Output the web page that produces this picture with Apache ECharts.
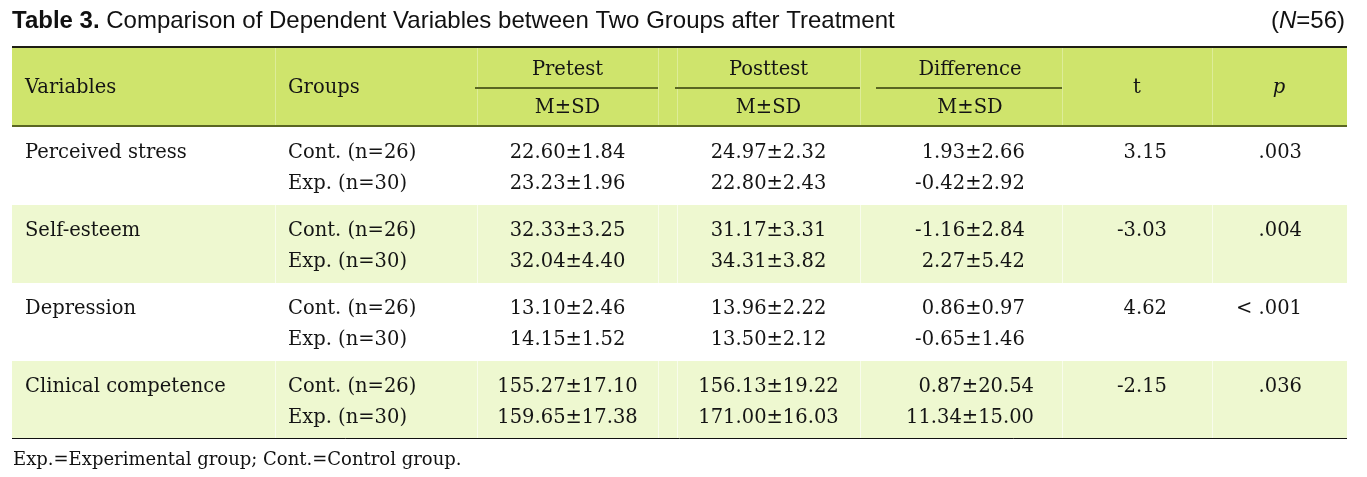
<!DOCTYPE html>
<html><head><meta charset="utf-8">
<script src="https://cdn.jsdelivr.net/npm/echarts@6/dist/echarts.min.js"></script>
<style>html,body{margin:0;padding:0;background:#fff}#c{width:1367px;height:477px}</style>
</head><body><div id="c"></div>
<script>
// ---------- data ----------
const titleBold = 'Table 3.';
const titleText = 'Comparison of Dependent Variables between Two Groups after Treatment';
const sampleSize = 56;
const headers = ['Variables', 'Groups', 'Pretest', 'Posttest', 'Difference', 't', 'p'];
const subHeader = 'M\u00B1SD';
const variables = ['Perceived stress', 'Self-esteem', 'Depression', 'Clinical competence'];
const groups = ['Cont. (n=26)', 'Exp. (n=30)'];
const pretestM = [[22.60, 23.23], [32.33, 32.04], [13.10, 14.15], [155.27, 159.65]];
const pretestSD = [[1.84, 1.96], [3.25, 4.40], [2.46, 1.52], [17.10, 17.38]];
const posttestM = [[24.97, 22.80], [31.17, 34.31], [13.96, 13.50], [156.13, 171.00]];
const posttestSD = [[2.32, 2.43], [3.31, 3.82], [2.22, 2.12], [19.22, 16.03]];
const diffM = [[1.93, -0.42], [-1.16, 2.27], [0.86, -0.65], [0.87, 11.34]];
const diffSD = [[2.66, 2.92], [2.84, 5.42], [0.97, 1.46], [20.54, 15.00]];
const tValues = [3.15, -3.03, 4.62, -2.15];
const pValues = ['.003', '.004', '< .001', '.036'];
const footnote = 'Exp.=Experimental group; Cont.=Control group.';

// ---------- layout / style ----------
const W = 1367, H = 477;
const L = {
  left: 12, right: 1347,
  varX: 25, grpX: 288,
  pre: [477, 658], post: [677, 860], diff: [878, 1062],
  tRight: 1167, pRight: 1302, tCenter: 1137, pCenter: 1279,
  vlines: [275, 477, 658, 677, 860, 1062, 1212],
  headTop: 48, headMid: 88, headBottom: 127, rowH: 78,
  line1: 25.5, line2: 56.5, head1: 69.5, head2: 107.5
};
const FONT = '"DejaVu Serif", serif';
const FS = 19.5;
const C = { head: '#cfe46c', light: '#eef8d0', text: '#141414', olive: '#5a6622', dark: '#1e1e14' };

const measureCtx = document.createElement('canvas').getContext('2d');
function tw(s, size) { measureCtx.font = (size || FS) + 'px ' + FONT; return measureCtx.measureText(s).width; }
const pm = (m, sd) => m.toFixed(2) + '\u00B1' + sd.toFixed(2);

function txt(api, x, y, s, align, extra) {
  const p = api.coord([x, y]);
  return { type: 'text', style: Object.assign({ x: p[0], y: p[1], text: s, fill: C.text,
    font: FS + 'px ' + FONT, align: align || 'left', verticalAlign: 'middle' }, extra || {}) };
}
function rect(api, x0, y0, x1, y1, fill) {
  const a = api.coord([x0, y0]), b = api.coord([x1, y1]);
  return { type: 'rect', shape: { x: a[0], y: a[1], width: b[0] - a[0], height: b[1] - a[1] }, style: { fill } };
}
function hline(api, x0, x1, y, color, w) {
  const a = api.coord([x0, y]), b = api.coord([x1, y]);
  const off = (w % 2 === 1) ? 0.5 : 0;
  return { type: 'line', shape: { x1: a[0], y1: a[1] + off, x2: b[0], y2: b[1] + off }, style: { stroke: color, lineWidth: w } };
}
function vline(api, x, y0, y1, color) {
  const a = api.coord([x, y0]), b = api.coord([x, y1]);
  return { type: 'line', shape: { x1: a[0] + 0.5, y1: a[1], x2: b[0] + 0.5, y2: b[1] }, style: { stroke: color, lineWidth: 1 } };
}
function pairCentered(api, range, strs, y0, ys) {
  const w = Math.max(tw(strs[0]), tw(strs[1]));
  const xr = (range[0] + range[1]) / 2 + w / 2;
  return strs.map((s, k) => txt(api, xr, y0 + ys[k], s, 'right'));
}

function renderHeader(params, api) {
  const ch = [];
  ch.push(rect(api, L.left, L.headTop, L.right, L.headBottom, C.head));
  L.vlines.forEach(x => ch.push(vline(api, x, L.headTop, L.headBottom, 'rgba(255,255,255,0.3)')));
  ch.push(hline(api, L.left, L.right, L.headTop - 1, C.dark, 2));
  ch.push(hline(api, L.left, L.right, L.headBottom - 1, C.olive, 2));
  [L.pre, L.post, L.diff].forEach(r => ch.push(hline(api, r[0] - 2, r[1], L.headMid, C.olive, 2)));
  ch.push(txt(api, L.varX, L.headMid, headers[0]));
  ch.push(txt(api, L.grpX, L.headMid, headers[1]));
  [L.pre, L.post, L.diff].forEach((r, k) => {
    const cx = (r[0] + r[1]) / 2;
    ch.push(txt(api, cx, L.head1, headers[2 + k], 'center'));
    ch.push(txt(api, cx, L.head2, subHeader, 'center'));
  });
  ch.push(txt(api, L.tCenter, L.headMid, headers[5], 'center'));
  ch.push(txt(api, L.pCenter, L.headMid, headers[6], 'center', { font: 'italic ' + FS + 'px ' + FONT }));
  return { type: 'group', children: ch };
}

function renderRow(params, api) {
  const i = params.dataIndex;
  const top = L.headBottom + i * L.rowH;
  const ch = [];
  if (i % 2 === 1) {
    ch.push(rect(api, L.left, top, L.right, top + L.rowH, C.light));
    L.vlines.forEach(x => ch.push(vline(api, x, top, top + L.rowH, 'rgba(255,255,255,0.6)')));
  }
  const ys = [L.line1, L.line2];
  ch.push(txt(api, L.varX, top + L.line1, variables[i]));
  groups.forEach((g, k) => ch.push(txt(api, L.grpX, top + ys[k], g)));
  ch.push(...pairCentered(api, L.pre, [0, 1].map(k => pm(pretestM[i][k], pretestSD[i][k])), top, ys));
  ch.push(...pairCentered(api, L.post, [0, 1].map(k => pm(posttestM[i][k], posttestSD[i][k])), top, ys));
  ch.push(...pairCentered(api, L.diff, [0, 1].map(k => pm(diffM[i][k], diffSD[i][k])), top, ys));
  ch.push(txt(api, L.tRight, top + L.line1, tValues[i].toFixed(2), 'right'));
  ch.push(txt(api, L.pRight, top + L.line1, pValues[i], 'right'));
  if (i === variables.length - 1) ch.push(hline(api, L.left, L.right, top + L.rowH - 1, '#111', 1));
  return { type: 'group', children: ch };
}

const chart = echarts.init(document.getElementById('c'), null, { renderer: 'canvas' });
chart.setOption({
  animation: false,
  title: [
    { text: '{b|' + titleBold + '} ' + titleText, left: 12, top: 9, padding: 0,
      textStyle: { fontFamily: 'Liberation Sans', fontSize: 24, fontWeight: 'normal', color: '#111',
        rich: { b: { fontFamily: 'Liberation Sans', fontSize: 24, fontWeight: 'bold', color: '#111' } } } },
    { text: '({i|N}=' + sampleSize + ')', right: 22, top: 9, padding: 0,
      textStyle: { fontFamily: 'Liberation Sans', fontSize: 24, fontWeight: 'normal', color: '#111',
        rich: { i: { fontFamily: 'Liberation Sans', fontSize: 24, fontStyle: 'italic', color: '#111' } } } },
    { text: footnote, left: 13, top: 451, padding: 0,
      textStyle: { fontFamily: 'DejaVu Serif', fontSize: 18, fontWeight: 'normal', color: '#111' } }
  ],
  grid: { left: 0, right: 0, top: 0, bottom: 0 },
  xAxis: { type: 'value', min: 0, max: W, show: false },
  yAxis: { type: 'value', min: 0, max: H, inverse: true, show: false },
  series: [
    { type: 'custom', name: 'header', renderItem: renderHeader, data: [[0, 0]], silent: true },
    { type: 'custom', name: 'rows', renderItem: renderRow, data: variables.map((v, i) => [i, i]), silent: true }
  ]
});
</script></body></html>
